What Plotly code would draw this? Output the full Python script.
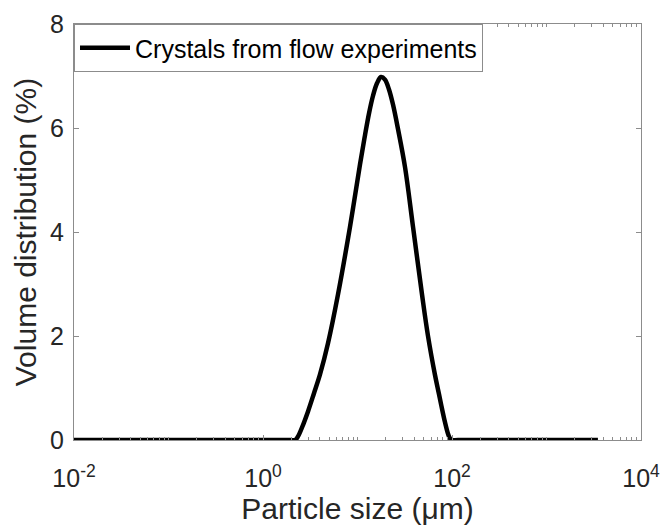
import plotly.graph_objects as go

# Data (particle size in µm, volume %)
particle_size_um = [0.01, 1.93, 2.182, 2.347, 2.586, 2.994, 3.465, 4.011, 4.873, 6.219, 8.329,
                    10.63, 12.00, 13.23, 14.59, 16.08, 17.74, 19.54, 21.54, 23.75, 26.83,
                    31.81, 38.67, 48.14, 55.72, 66.08, 72.86, 78.39, 84.33, 90.73, 95.24,
                    100.0, 115.6, 3500]
volume_pct = [0, 0, 0, 0.07, 0.24, 0.55, 0.90, 1.26, 1.86, 2.80, 4.10,
              5.30, 5.86, 6.28, 6.62, 6.86, 6.98, 6.93, 6.74, 6.45, 5.98,
              5.25, 4.10, 2.80, 2.00, 1.25, 0.88, 0.60, 0.34, 0.12, 0.03,
              0, 0, 0]
series_name = "Crystals from flow experiments"

x_tickvals = [1e-2, 1e0, 1e2, 1e4]
x_ticktext = ["10<sup>-2</sup>", "10<sup>0</sup>", "10<sup>2</sup>", "10<sup>4</sup>"]
y_tickvals = [0, 2, 4, 6, 8]

minor_vals = []
for e in range(-2, 4):
    for m in range(1, 10):
        v = m * 10.0 ** e
        if v not in x_tickvals:
            minor_vals.append(v)

FONT = "Liberation Sans, Arial, sans-serif"
TXT = "#262626"
AX = "#8c8c8c"

fig = go.Figure()
fig.add_trace(go.Scatter(
    x=particle_size_um, y=volume_pct, mode="lines", name=series_name,
    line=dict(color="black", width=4.5, shape="spline", smoothing=1.0),
    cliponaxis=False,
))

fig.update_layout(
    width=664, height=528,
    margin=dict(l=74, r=23, t=24, b=88),
    paper_bgcolor="white", plot_bgcolor="white",
    font=dict(family=FONT, size=25, color=TXT),
    showlegend=True,
    legend=dict(x=0, y=1, xanchor="left", yanchor="top",
                bgcolor="white", bordercolor=AX, borderwidth=1,
                font=dict(size=25, color="black"), itemwidth=50,
                tracegroupgap=0),
    xaxis=dict(
        type="log", range=[-2, 4], automargin=False,
        tickvals=x_tickvals, ticktext=x_ticktext,
        ticks="inside", ticklen=5, tickcolor=AX,
        showline=True, linecolor=AX, linewidth=1, mirror="allticks",
        showgrid=False, zeroline=False,
        minor=dict(tickvals=minor_vals, ticks="inside", ticklen=3, tickcolor=AX, showgrid=False),
        title=dict(text="Particle size (μm)", font=dict(size=30, color=TXT), standoff=5),
        tickfont=dict(size=25, color=TXT),
        ticklabelstandoff=16,
    ),
    yaxis=dict(
        range=[0, 8], tickvals=y_tickvals, automargin=False,
        ticks="inside", ticklen=5, tickcolor=AX,
        showline=True, linecolor=AX, linewidth=1, mirror="allticks",
        showgrid=False, zeroline=False,
        title=dict(text="Volume distribution (%)", font=dict(size=30, color=TXT), standoff=4),
        tickfont=dict(size=25, color=TXT),
        ticklabelstandoff=4,
    ),
)

fig.write_html("out.html")
